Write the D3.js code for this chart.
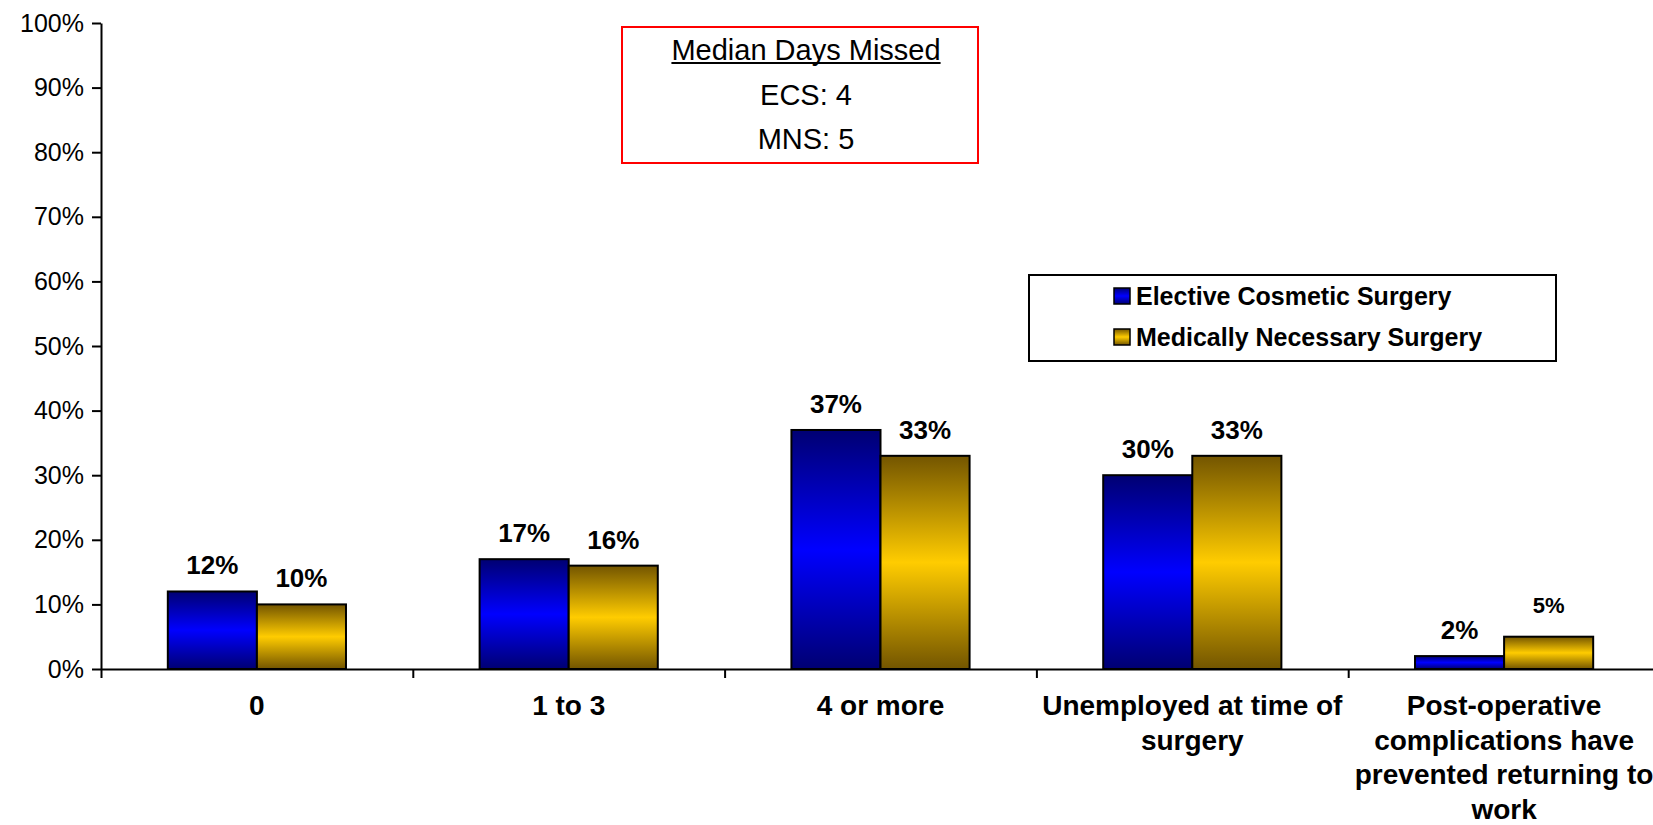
<!DOCTYPE html>
<html>
<head>
<meta charset="utf-8">
<script src="https://cdn.jsdelivr.net/npm/d3@7"></script>
<style>
  html, body { margin: 0; padding: 0; background: #fff; }
  svg { display: block; font-family: "Liberation Sans", Arial, sans-serif; }
</style>
</head>
<body>
<svg class="chart"></svg>
<script>
// chart values
const categories = [
  '0',
  '1 to 3',
  '4 or more',
  'Unemployed at time of\nsurgery',
  'Post-operative\ncomplications have\nprevented returning to\nwork'
];
const seriesNames = ['Elective Cosmetic Surgery', 'Medically Necessary Surgery'];
const ecsValues = [12, 17, 37, 30, 2];
const mnsValues = [10, 16, 33, 33, 5];
const yTicks = [0, 10, 20, 30, 40, 50, 60, 70, 80, 90, 100];
const boxLines = ['Median Days Missed', 'ECS: 4', 'MNS: 5'];

const seriesValues = [ecsValues, mnsValues];
const seriesColors = [
  { id: 'gradBlue', dark: '#000072', bright: '#0000ff' },
  { id: 'gradGold', dark: '#735500', bright: '#ffcc00' }
];

const [width, height] = [1653, 825];
const svg = d3.select('.chart').attr('width', width).attr('height', height);

const x = d3.scaleBand().domain(categories).range([101, 1660]);
const xEdge = d3.scaleLinear().domain([0, categories.length]).range(x.range());
const xSeries = d3.scaleBand().domain(seriesNames).range([0, x.bandwidth()])
  .paddingInner(0).paddingOuter(0.75);
const y = d3.scaleLinear().domain([0, 100]).range([669, 23]);

// gradients, dark at the edges and bright in the middle
const defs = svg.append('defs');
seriesColors.forEach(({ id, dark, bright }) => {
  const g = defs.append('linearGradient').attr('id', id)
    .attr('x1', 0).attr('y1', 0).attr('x2', 0).attr('y2', 1);
  g.append('stop').attr('offset', '0%').attr('stop-color', dark);
  g.append('stop').attr('offset', '50%').attr('stop-color', bright);
  g.append('stop').attr('offset', '100%').attr('stop-color', dark);
});

// y axis
const yAxis = svg.append('g')
  .attr('transform', `translate(${x.range()[0]},0)`)
  .call(d3.axisLeft(y).tickValues(yTicks).tickFormat(d => `${d}%`)
    .tickSize(9).tickSizeOuter(0).tickPadding(8));
yAxis.selectAll('text').attr('font-size', 25).attr('fill', '#000');

// x axis: ticks on the category edges
svg.append('g')
  .attr('transform', `translate(0,${y(0)})`)
  .call(d3.axisBottom(xEdge).tickValues(d3.range(categories.length + 1))
    .tickFormat('').tickSize(9).tickSizeOuter(0));

svg.selectAll('.domain, .tick line').attr('stroke', '#000').attr('stroke-width', 2);
svg.selectAll('.tick text').attr('font-family', null);

// bars
const groups = svg.append('g').selectAll('g')
  .data(seriesNames)
  .join('g');

groups.selectAll('rect')
  .data((name, i) => seriesValues[i].map((v, j) => ({ name, v, cat: categories[j], s: i })))
  .join('rect')
  .attr('x', d => x(d.cat) + xSeries(d.name))
  .attr('y', d => y(d.v))
  .attr('width', xSeries.bandwidth())
  .attr('height', d => y(0) - y(d.v))
  .attr('fill', d => `url(#${seriesColors[d.s].id})`)
  .attr('stroke', '#000')
  .attr('stroke-width', 2);

// data labels
groups.selectAll('text')
  .data((name, i) => seriesValues[i].map((v, j) => ({ name, v, cat: categories[j], s: i, j })))
  .join('text')
  .attr('x', d => x(d.cat) + xSeries(d.name) + xSeries.bandwidth() / 2)
  .attr('y', d => y(d.v) - (d.s === 1 && d.j === 4 ? 24 : 17))
  .attr('text-anchor', 'middle')
  .attr('font-weight', 'bold')
  .attr('font-size', d => (d.s === 1 && d.j === 4 ? 22 : 26))
  .text(d => `${d.v}%`);

// category labels
svg.append('g').selectAll('text')
  .data(categories)
  .join('text')
  .attr('text-anchor', 'middle')
  .attr('font-weight', 'bold')
  .attr('font-size', 28)
  .attr('y', 715)
  .each(function (d) {
    const t = d3.select(this);
    d.split('\n').forEach((line, k) => {
      t.append('tspan')
        .attr('x', x(d) + x.bandwidth() / 2)
        .attr('dy', k === 0 ? 0 : 34.5)
        .text(line);
    });
  });

// median days box
const box = svg.append('g');
box.append('rect')
  .attr('x', 622).attr('y', 27).attr('width', 356).attr('height', 136)
  .attr('fill', '#fff').attr('stroke', '#ff0000').attr('stroke-width', 2);
box.selectAll('text')
  .data(boxLines)
  .join('text')
  .attr('x', 806)
  .attr('y', (d, i) => 60 + i * 44.5)
  .attr('text-anchor', 'middle')
  .attr('font-size', 29)
  .text(d => d);
const titleLen = box.select('text').node().getComputedTextLength();
box.append('line')
  .attr('x1', 806 - titleLen / 2).attr('x2', 806 + titleLen / 2)
  .attr('y1', 63).attr('y2', 63)
  .attr('stroke', '#000').attr('stroke-width', 2);

// legend
const legend = svg.append('g');
legend.append('rect')
  .attr('x', 1029).attr('y', 275).attr('width', 527).attr('height', 86)
  .attr('fill', '#fff').attr('stroke', '#000').attr('stroke-width', 2);
const items = legend.selectAll('g.item')
  .data(seriesNames)
  .join('g')
  .attr('class', 'item')
  .attr('transform', (d, i) => `translate(1114,${288 + i * 41})`);
items.append('rect')
  .attr('width', 16).attr('height', 16)
  .attr('fill', (d, i) => `url(#${seriesColors[i].id})`)
  .attr('stroke', '#000').attr('stroke-width', 1.5);
items.append('text')
  .attr('x', 22).attr('y', 17)
  .attr('font-weight', 'bold')
  .attr('font-size', 25)
  .text(d => d);
</script>
</body>
</html>
